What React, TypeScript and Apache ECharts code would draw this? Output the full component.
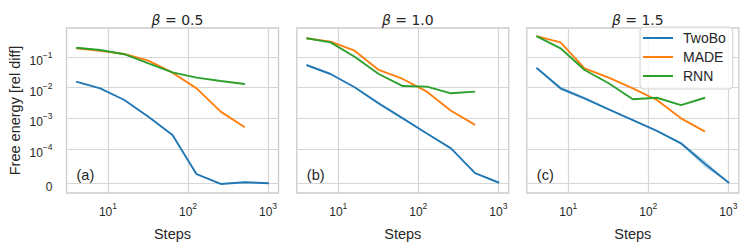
import React, { useEffect, useRef } from "react";
import * as echarts from "echarts";

// ---- data ----
const steps = [4, 8, 16, 32, 64, 128, 256, 512, 1024];
const panelTitles = ["0.5", "1.0", "1.5"];
const panelTags = ["(a)", "(b)", "(c)"];
const seriesNames = ["TwoBo", "MADE", "RNN"];
const seriesColors = ["#1f77b4", "#ff7f0e", "#2ca02c"];

const twoBoA = [0.0157, 0.0095, 0.00396, 0.00113, 2.86e-4, 2.6e-5, -2.6e-6, 2.3e-6, -0.3e-6];
const madeA = [0.192, 0.16, 0.125, 0.0757, 0.0307, 0.0095, 0.00165, 5.1e-4];
const rnnA = [0.2, 0.169, 0.123, 0.062, 0.0315, 0.0212, 0.0165, 0.0132];

const twoBoB = [0.0548, 0.0279, 0.0103, 0.00308, 1.0e-3, 3.2e-4, 1.05e-4, 2.9e-5, 1e-6];
const madeB = [0.407, 0.316, 0.16, 0.0377, 0.0192, 0.0074, 0.00177, 6.1e-4];
const rnnB = [0.407, 0.3, 0.102, 0.0279, 0.0113, 0.0108, 0.00655, 0.0074];

const twoBoC = [0.0448, 0.0095, 0.0045, 0.00197, 8.8e-4, 3.9e-4, 1.53e-4, 5.6e-5, 0];
const madeC = [0.48, 0.3, 0.0428, 0.0212, 0.0095, 0.00396, 1.0e-3, 3.7e-4];
const rnnC = [0.48, 0.192, 0.0377, 0.0139, 0.0042, 0.0047, 0.0027, 0.0047];

// TwoBo spread band (panel c)
const twoBoCLow = [0.0445, 0.0082, 0.0040, 0.00190, 8.6e-4, 3.8e-4, 1.40e-4, 4.6e-5, 0];
const twoBoCHigh = [0.0451, 0.0110, 0.0050, 0.00204, 9.0e-4, 4.0e-4, 1.66e-4, 6.6e-5, 0];

const panels = [
  [twoBoA, madeA, rnnA],
  [twoBoB, madeB, rnnB],
  [twoBoC, madeC, rnnC],
];

const yTickValues = [0, 1e-4, 1e-3, 1e-2, 1e-1];
const yTickLabels = ["0", "10^−4", "10^−3", "10^−2", "10^−1"];
const xTickExps = [1, 2, 3];

// ---- symlog transform (linthresh 1e-4, linscale 1, base 10) ----
const LT = 1e-4;
const LS = 1 / (1 - 0.1);
function symlog(v: number): number {
  const a = Math.abs(v);
  if (a <= LT) return (v / LT) * LS;
  return Math.sign(v) * (LS + Math.log10(a / LT));
}

const yTickT = yTickValues.map(symlog);

function fmtPow(label: string): string {
  if (label.indexOf("^") < 0) return "{b|" + label + "}";
  const [b, e] = label.split("^");
  return "{b|" + b + "}{s|" + e + "}";
}

const TXT = "#262626";
const FONT = "Liberation Sans, Arial, sans-serif";
const GRID_LEFT = [66.5, 296.8, 526.8];
const GRID_W = 212;
const GRID_TOP = 28;
const GRID_H = 165;

const richPow = {
  b: { fontSize: 12, color: TXT, fontFamily: FONT, lineHeight: 13, padding: [8, 0, 0, 0] },
  s: { fontSize: 8.5, color: TXT, fontFamily: FONT, lineHeight: 9, verticalAlign: "top" },
};

const LEGEND_ICON = "path://M0 0H0.01V0.01H0Z M0 6.1H30V7.9H0Z M29.99 13.99H30V14H29.99Z";

export default function App() {
  const ref = useRef<HTMLDivElement>(null);
  useEffect(() => {
    document.body.style.margin = "0";
    const chart = echarts.init(ref.current!, null, { renderer: "svg" });

    const grids: any[] = [];
    const xAxes: any[] = [];
    const yAxes: any[] = [];
    const series: any[] = [];
    const titles: any[] = [];
    const graphics: any[] = [];

    const bandData = steps.map((s, j) => [Math.log10(s), symlog(twoBoCLow[j]), symlog(twoBoCHigh[j])]);

    panels.forEach((p, i) => {
      grids.push({
        left: GRID_LEFT[i],
        top: GRID_TOP,
        width: GRID_W,
        height: GRID_H,
        show: true,
        borderColor: "#cccccc",
        borderWidth: 1.3,
        backgroundColor: "#ffffff",
      });
      xAxes.push({
        type: "value",
        gridIndex: i,
        min: 0.4817,
        max: 3.1307,
        name: "Steps",
        nameLocation: "middle",
        nameGap: 33,
        nameTextStyle: { fontSize: 14.5, color: TXT, fontFamily: FONT },
        axisLine: { show: false },
        axisTick: { show: false, customValues: xTickExps },
        axisLabel: {
          customValues: xTickExps,
          margin: 8,
          formatter: (v: number) => fmtPow("10^" + Math.round(v)),
          rich: richPow,
        },
        splitLine: { show: true, lineStyle: { color: "#d6d6d6", width: 1.2 } },
      });
      yAxes.push({
        type: "value",
        gridIndex: i,
        min: -0.323,
        max: 5.056,
        name: i === 0 ? "Free energy [rel diff]" : "",
        nameLocation: "middle",
        nameGap: 44,
        nameTextStyle: { fontSize: 14.5, color: TXT, fontFamily: FONT },
        axisLine: { show: false },
        axisTick: { show: false, customValues: yTickT },
        axisLabel: {
          show: i === 0,
          customValues: yTickT,
          margin: 14,
          formatter: (v: number) => {
            let best = 0;
            yTickT.forEach((t, k) => {
              if (Math.abs(t - v) < Math.abs(yTickT[best] - v)) best = k;
            });
            return fmtPow(yTickLabels[best]);
          },
          rich: richPow,
        },
        splitLine: { show: true, lineStyle: { color: "#d6d6d6", width: 1.2 } },
      });
      if (i === 2) {
        series.push({
          type: "custom",
          name: "band",
          xAxisIndex: i,
          yAxisIndex: i,
          silent: true,
          z: 2,
          data: bandData,
          renderItem: (params: any, api: any) => {
            if (params.dataIndex !== 0) return null;
            const upper = bandData.map((d) => api.coord([d[0], d[2]]));
            const lower = bandData.map((d) => api.coord([d[0], d[1]])).reverse();
            return {
              type: "polygon",
              shape: { points: upper.concat(lower) },
              style: { fill: "rgba(31,119,180,0.25)" },
            };
          },
        });
      }
      p.forEach((vals, k) => {
        series.push({
          type: "line",
          name: seriesNames[k],
          xAxisIndex: i,
          yAxisIndex: i,
          symbol: "none",
          showSymbol: false,
          lineStyle: { color: seriesColors[k], width: 1.9 },
          itemStyle: { color: seriesColors[k] },
          data: vals.map((v, j) => [Math.log10(steps[j]), symlog(v)]),
          z: 3,
        });
      });
      titles.push({
        text: "{i|β} = " + panelTitles[i],
        left: GRID_LEFT[i] + GRID_W / 2,
        top: 8,
        textAlign: "center",
        textStyle: {
          fontSize: 14,
          fontWeight: "normal",
          color: TXT,
          fontFamily: "DejaVu Sans",
          rich: {
            i: { fontSize: 14, fontStyle: "italic", color: TXT, fontFamily: "DejaVu Sans" },
          },
        },
      });
      graphics.push({
        type: "text",
        left: GRID_LEFT[i] + 10,
        top: 167,
        style: { text: panelTags[i], fontSize: 14.5, fill: TXT, fontFamily: FONT },
        z: 10,
      });
    });

    chart.setOption({
      animation: false,
      backgroundColor: "#ffffff",
      title: titles,
      grid: grids,
      xAxis: xAxes,
      yAxis: yAxes,
      series,
      graphic: graphics,
      legend: {
        data: seriesNames.map((n) => ({ name: n, icon: LEGEND_ICON })),
        orient: "vertical",
        left: 640,
        top: 27,
        itemWidth: 30,
        itemHeight: 14,
        itemGap: 5,
        padding: [4, 7, 6, 3],
        backgroundColor: "rgba(255,255,255,0.8)",
        borderColor: "#d0d0d0",
        borderWidth: 1,
        borderRadius: 4,
        textStyle: { fontSize: 14, color: TXT, fontFamily: FONT, padding: [0, 0, 0, 5] },
        z: 10,
      },
    });
    return () => chart.dispose();
  }, []);
  return <div ref={ref} style={{ width: 748, height: 252 }} />;
}
